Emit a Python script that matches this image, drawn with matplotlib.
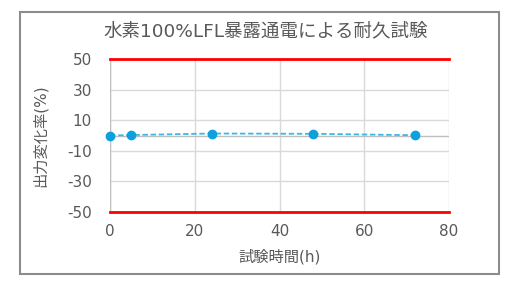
import matplotlib
matplotlib.use('Agg')
import matplotlib.pyplot as plt
from matplotlib.patches import Rectangle

plt.rcParams['font.family'] = ['DejaVu Sans', 'Noto Sans CJK JP']
plt.rcParams['axes.unicode_minus'] = False

# data
hours = [0, 5, 24, 48, 72]
change = [0.0, 0.3, 1.3, 1.1, 0.2]
limit_x = [0, 80]
limit_hi = [50, 50]
limit_lo = [-50, -50]
yticks = [-50, -30, -10, 10, 30, 50]
xticks = [0, 20, 40, 60, 80]

title = '水素100%LFL暴露通電による耐久試験'
xlabel = '試験時間(h)'
ylabel = '出力変化率(%)'

grey = '#595959'

fig = plt.figure(figsize=(5.11, 2.89), dpi=100)
fig.patches.append(Rectangle((20/511, 15/289), 479/511, 262/289, transform=fig.transFigure,
                             fill=False, edgecolor='#8c8c8c', linewidth=1.5))

ax = fig.add_axes([110/511, 77/289, 339/511, 153/289])
ax.set_xlim(0, 80)
ax.set_ylim(-50, 50)
ax.set_xticks(xticks)
ax.set_yticks(yticks)
ax.grid(True, color='#d9d9d9', linewidth=1)
ax.set_axisbelow(True)
for s in ax.spines.values():
    s.set_visible(False)
ax.axhline(0, color='#bfbfbf', linewidth=1, zorder=1)
ax.axvline(0, color='#bfbfbf', linewidth=1, zorder=1)
ax.tick_params(axis='y', length=0, colors=grey, labelsize=11, pad=13)
ax.tick_params(axis='x', length=0, colors=grey, labelsize=11, pad=9)

ax.plot(limit_x, limit_hi, color='#ff0000', linewidth=2, clip_on=False, zorder=3)
ax.plot(limit_x, limit_lo, color='#ff0000', linewidth=2, clip_on=False, zorder=3)
ax.plot(hours, change, color='#3ab8ea', linestyle='--', linewidth=1.3, zorder=4, dashes=(3, 1.5))
ax.plot(hours, change, linestyle='none', marker='o', markersize=6, color='#0ea0dc', zorder=5, clip_on=False)

fig.text(266/511, 1 - 31/289, title, ha='center', va='center', fontsize=13.3, color=grey)
ax.set_xlabel(xlabel, fontsize=11, color=grey)
ax.set_ylabel(ylabel, fontsize=11, color=grey)
ax.xaxis.set_label_coords(0.5, -(257 - 212) / 153, transform=ax.transAxes)
ax.yaxis.set_label_coords(-(110 - 40) / 339, 0.5)
ax.xaxis.label.set_va('center')
ax.yaxis.label.set_va('center')

plt.savefig('out.png', dpi=100)
